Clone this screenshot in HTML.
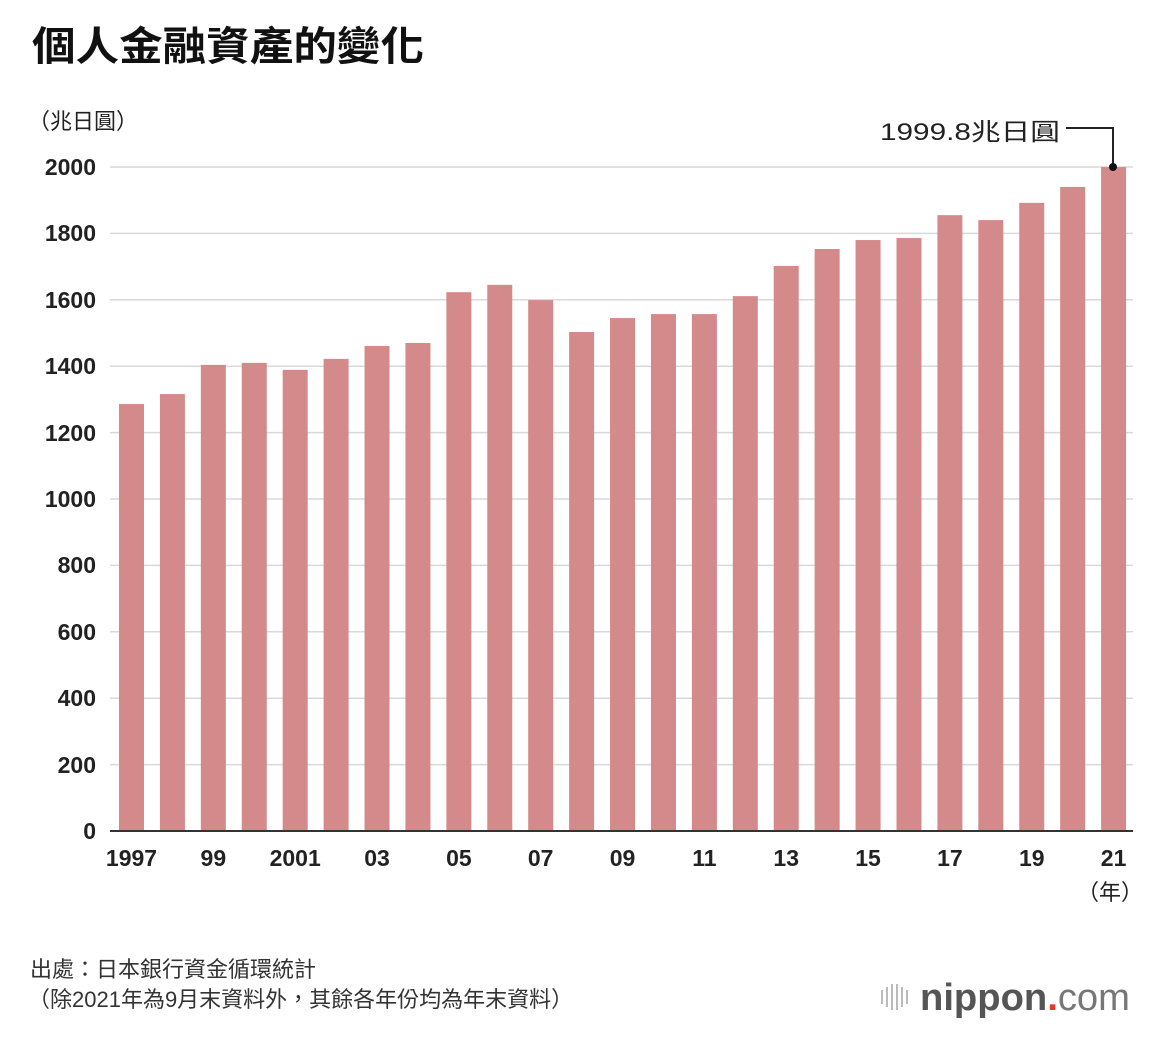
<!DOCTYPE html>
<html><head><meta charset="utf-8"><style>
body{margin:0;background:#fff;}
svg text{font-family:"Liberation Sans","Noto Sans CJK TC",sans-serif;}
</style></head><body>
<svg width="1170" height="1038" viewBox="0 0 1170 1038" xmlns="http://www.w3.org/2000/svg">
<text x="32" y="60" font-size="40" font-weight="bold" fill="#111" textLength="392" lengthAdjust="spacingAndGlyphs">個人金融資產的變化</text>
<text x="28" y="129" font-size="22" fill="#222">（兆日圓）</text>
<g stroke="#d9d9d9" stroke-width="1.5">
<line x1="110" y1="167" x2="1133" y2="167"/><line x1="110" y1="233.4" x2="1133" y2="233.4"/>
<line x1="110" y1="299.8" x2="1133" y2="299.8"/><line x1="110" y1="366.2" x2="1133" y2="366.2"/>
<line x1="110" y1="432.6" x2="1133" y2="432.6"/><line x1="110" y1="499" x2="1133" y2="499"/>
<line x1="110" y1="565.4" x2="1133" y2="565.4"/><line x1="110" y1="631.8" x2="1133" y2="631.8"/>
<line x1="110" y1="698.2" x2="1133" y2="698.2"/><line x1="110" y1="764.6" x2="1133" y2="764.6"/>
</g>
<g font-size="23" font-weight="bold" fill="#222" text-anchor="end">
<text x="96" y="175">2000</text><text x="96" y="241">1800</text><text x="96" y="308">1600</text>
<text x="96" y="374">1400</text><text x="96" y="441">1200</text><text x="96" y="507">1000</text>
<text x="96" y="573">800</text><text x="96" y="640">600</text><text x="96" y="706">400</text>
<text x="96" y="773">200</text><text x="96" y="839">0</text>
</g>
<g fill="#d4898a" id="bars"></g>
<line x1="110" y1="831" x2="1133" y2="831" stroke="#333" stroke-width="2"/>
<g font-size="23" font-weight="bold" fill="#222" text-anchor="middle" id="xl"></g>
<text x="1110" y="900" font-size="22" fill="#222" text-anchor="middle">（年）</text>
<text x="880" y="140" font-size="24" fill="#222" textLength="180" lengthAdjust="spacingAndGlyphs">1999.8兆日圓</text>
<polyline points="1066,128 1113,128 1113,167" fill="none" stroke="#222" stroke-width="2"/>
<circle cx="1113" cy="167" r="4" fill="#111"/>
<text x="30" y="977" font-size="22" fill="#333">出處：日本銀行資金循環統計</text>
<text x="28" y="1007" font-size="22" fill="#333">（除2021年為9月末資料外，其餘各年份均為年末資料）</text>
<g fill="#bbb">
<rect x="881" y="990" width="2" height="14"/><rect x="886" y="987" width="2" height="20"/>
<rect x="891" y="984" width="2" height="26"/><rect x="896" y="984" width="2" height="26"/>
<rect x="901" y="987" width="2" height="20"/><rect x="906" y="990" width="2" height="14"/>
</g>
<text x="920" y="1010" font-size="38" font-weight="bold" fill="#555" textLength="210" lengthAdjust="spacingAndGlyphs">nippon<tspan fill="#e33">.</tspan><tspan font-weight="normal" fill="#777">com</tspan></text>
</svg>
<script>
var v=[1286,1316,1404,1410,1389,1422,1461,1470,1623,1645,1599,1503,1545,1557,1557,1611,1702,1753,1780,1786,1855,1840,1892,1940,1999.8];
var lab={0:"1997",2:"99",4:"2001",6:"03",8:"05",10:"07",12:"09",14:"11",16:"13",18:"15",20:"17",22:"19",24:"21"};
var ns="http://www.w3.org/2000/svg",b=document.getElementById("bars"),xl=document.getElementById("xl");
v.forEach(function(d,i){var x=119+i*40.92,h=d*0.332;var r=document.createElementNS(ns,"rect");
r.setAttribute("x",x);r.setAttribute("y",831-h);r.setAttribute("width",25);r.setAttribute("height",h);b.appendChild(r);
if(lab[i]){var t=document.createElementNS(ns,"text");t.setAttribute("x",x+12.5);t.setAttribute("y",866);t.textContent=lab[i];xl.appendChild(t);}});
</script>
</body></html>
